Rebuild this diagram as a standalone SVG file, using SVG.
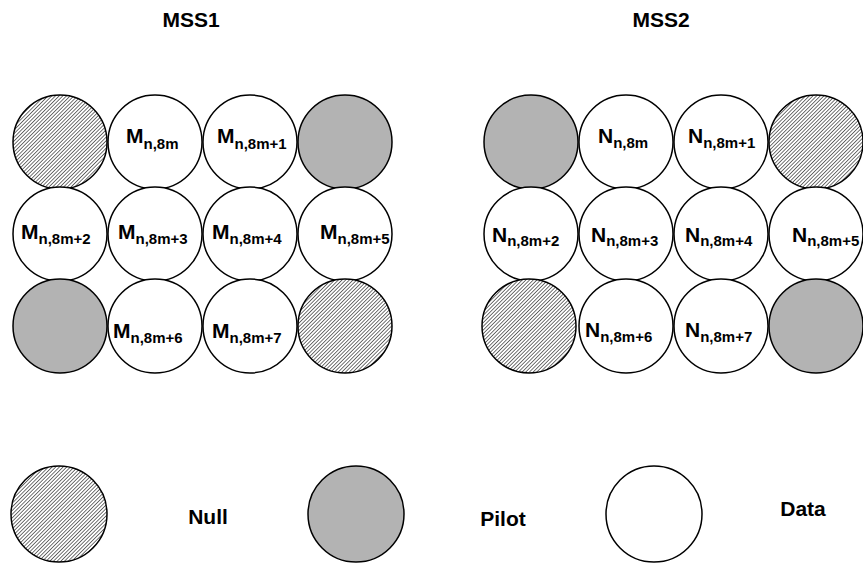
<svg xmlns="http://www.w3.org/2000/svg" width="863" height="563" viewBox="0 0 863 563">
<defs>
<pattern id="hatch" patternUnits="userSpaceOnUse" width="2.6" height="2.6" patternTransform="rotate(45)">
<rect width="2.6" height="2.6" fill="#fff"/>
<line x1="0" y1="0" x2="0" y2="2.6" stroke="#000" stroke-width="1.1"/>
</pattern>
<style>
.c{stroke:#000;stroke-width:1.5}
.null{fill:url(#hatch)}
.pilot{fill:#b3b3b3}
.data{fill:#fff}
text{font-family:"Liberation Sans",Arial,sans-serif;font-weight:bold;fill:#000}
.big{font-size:21px}
.lab{font-size:21px}
.sub{font-size:15px}
</style>
</defs>
<rect width="863" height="563" fill="#fff"/>
<text class="big" x="191" y="27" text-anchor="middle">MSS1</text>
<text class="big" x="661" y="27" text-anchor="middle">MSS2</text>
<g id="mss1">
<g id="m-null-1"><circle class="c null" cx="60" cy="142" r="47"/></g>
<g id="m0"><circle class="c data" cx="155" cy="142" r="47"/><text class="lab" x="126" y="143">M<tspan class="sub" dy="6">n,8m</tspan></text></g>
<g id="m1"><circle class="c data" cx="250" cy="142" r="47"/><text class="lab" x="217" y="143">M<tspan class="sub" dy="6">n,8m+1</tspan></text></g>
<g id="m-pilot-1"><circle class="c pilot" cx="345" cy="142" r="47"/></g>
<g id="m2"><circle class="c data" cx="60" cy="234" r="47"/><text class="lab" x="21" y="239">M<tspan class="sub" dy="5">n,8m+2</tspan></text></g>
<g id="m3"><circle class="c data" cx="155" cy="234" r="47"/><text class="lab" x="118" y="239">M<tspan class="sub" dy="5">n,8m+3</tspan></text></g>
<g id="m4"><circle class="c data" cx="250" cy="234" r="47"/><text class="lab" x="212" y="239">M<tspan class="sub" dy="5">n,8m+4</tspan></text></g>
<g id="m5"><circle class="c data" cx="345" cy="234" r="47"/><text class="lab" x="320" y="239">M<tspan class="sub" dy="5">n,8m+5</tspan></text></g>
<g id="m-pilot-2"><circle class="c pilot" cx="60" cy="326" r="47"/></g>
<g id="m6"><circle class="c data" cx="155" cy="326" r="47"/><text class="lab" x="113" y="338">M<tspan class="sub" dy="5">n,8m+6</tspan></text></g>
<g id="m7"><circle class="c data" cx="250" cy="326" r="47"/><text class="lab" x="212" y="338">M<tspan class="sub" dy="5">n,8m+7</tspan></text></g>
<g id="m-null-2"><circle class="c null" cx="345" cy="326" r="47"/></g>
</g>
<g id="mss2">
<g id="n-pilot-1"><circle class="c pilot" cx="531" cy="142" r="47"/></g>
<g id="n0"><circle class="c data" cx="626" cy="142" r="47"/><text class="lab" x="598" y="143">N<tspan class="sub" dy="5">n,8m</tspan></text></g>
<g id="n1"><circle class="c data" cx="721" cy="142" r="47"/><text class="lab" x="688" y="143">N<tspan class="sub" dy="5">n,8m+1</tspan></text></g>
<g id="n-null-1"><circle class="c null" cx="816" cy="142" r="47"/></g>
<g id="n2"><circle class="c data" cx="531" cy="234" r="47"/><text class="lab" x="492" y="242">N<tspan class="sub" dy="4">n,8m+2</tspan></text></g>
<g id="n3"><circle class="c data" cx="626" cy="234" r="47"/><text class="lab" x="591" y="242">N<tspan class="sub" dy="4">n,8m+3</tspan></text></g>
<g id="n4"><circle class="c data" cx="721" cy="234" r="47"/><text class="lab" x="685" y="242">N<tspan class="sub" dy="4">n,8m+4</tspan></text></g>
<g id="n5"><circle class="c data" cx="816" cy="234" r="47"/><text class="lab" x="792" y="242">N<tspan class="sub" dy="4">n,8m+5</tspan></text></g>
<g id="n-null-2"><circle class="c null" cx="529" cy="326" r="47"/></g>
<g id="n6"><circle class="c data" cx="626" cy="326" r="47"/><text class="lab" x="585" y="337">N<tspan class="sub" dy="5">n,8m+6</tspan></text></g>
<g id="n7"><circle class="c data" cx="721" cy="326" r="47"/><text class="lab" x="685" y="337">N<tspan class="sub" dy="5">n,8m+7</tspan></text></g>
<g id="n-pilot-2"><circle class="c pilot" cx="816" cy="326" r="47"/></g>
</g>
<g id="legend">
<g id="leg-null"><circle class="c null" cx="59" cy="514" r="48"/><text class="big" x="208" y="524" text-anchor="middle">Null</text></g>
<g id="leg-pilot"><circle class="c pilot" cx="356" cy="514" r="48"/><text class="big" x="503" y="526" text-anchor="middle">Pilot</text></g>
<g id="leg-data"><circle class="c data" cx="654" cy="514" r="48"/><text class="big" x="803" y="516" text-anchor="middle">Data</text></g>
</g>
<g id="connectors"/>
</svg>
